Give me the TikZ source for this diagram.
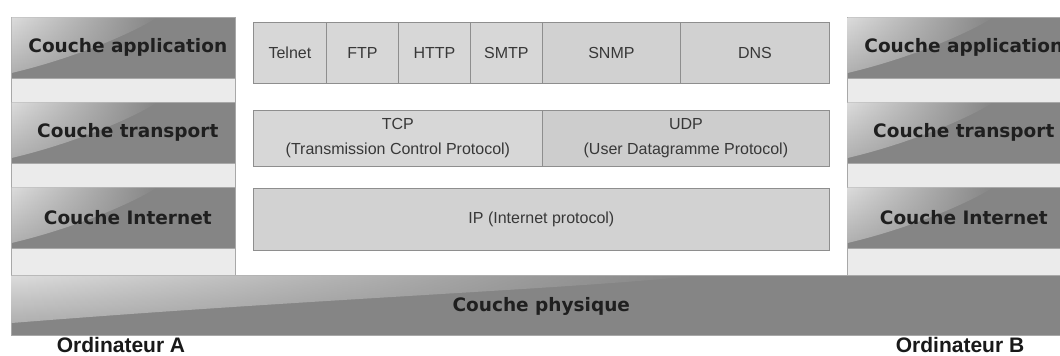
\documentclass[tikz,border=0pt]{standalone}
\usepackage{fontspec}
\setmainfont{Liberation Sans}
\newfontfamily\bandfamily{DejaVu Sans}
\usetikzlibrary{fadings}
\definecolor{bandgray}{HTML}{858585}
\definecolor{panelfill}{HTML}{EBEBEB}
\definecolor{panelline}{HTML}{A8A8A8}
\definecolor{boxfill}{HTML}{D7D7D7}
\definecolor{boxfillB}{HTML}{CDCDCD}
\definecolor{boxline}{HTML}{8E8E8E}
\definecolor{hilite}{HTML}{DCDCDC}
\definecolor{hiliteB}{HTML}{B0B0B0}
\definecolor{txtgray}{HTML}{383838}
\begin{document}
\begin{tikzpicture}[x=1pt,y=-1pt,
  panel/.style={draw=panelline, fill=panelfill, line width=0.8pt, anchor=north west,
    minimum width=224pt, minimum height=258pt, inner sep=0pt},
  bandtext/.style={font=\bandfamily\bfseries\fontsize{18.5}{20}\selectfont, text=black!88, inner sep=0pt},
  band/.style={fill=bandgray, draw=panelline, line width=0.6pt, anchor=north west,
    minimum width=224pt, minimum height=61pt, inner sep=0pt},
  hl/.style={top color=hilite, bottom color=hiliteB, path fading=east},
  physband/.style={fill=bandgray, draw=panelline, line width=0.6pt, anchor=north west,
    minimum width=1060pt, minimum height=60pt, inner sep=0pt},
  proto/.style={draw=boxline, fill=boxfill, line width=0.8pt, inner sep=0pt,
    anchor=north west, font=\fontsize{16}{25}\selectfont, text=txtgray, align=center},
  ordi/.style={font=\bfseries\fontsize{21}{23}\selectfont, text=black!90, anchor=base, inner sep=0pt}
]
\useasboundingbox (0,0) rectangle (1060,356);
\clip (0,0) rectangle (1060,356);
\fill[white] (0,0) rectangle (1060,356);

% panels
\node[panel] (panelA) at (11,17) {};
\node[panel] (panelB) at (847,17) {};

% bands with highlight and label
\foreach \nm/\bx/\by/\tx in {appA/11/17/Couche application, trA/11/102/Couche transport, intA/11/187/Couche Internet,
                             appB/847/17/Couche application, trB/847/102/Couche transport, intB/847/187/Couche Internet}{
  \node[band] (\nm) at (\bx,\by) {};
  \begin{scope}[shift={(\bx,\by)}]
    \shade[hl] (0.5,0.5) -- (146,0.5) .. controls (118,18) and (60,42) .. (0.5,56) -- cycle;
  \end{scope}
  \node[bandtext] (\nm-label) at ([xshift=4.5pt]\nm.center) {\tx};
}

% application protocols
\node[proto, minimum width=73pt, minimum height=61pt] (telnet) at (253,22) {Telnet};
\node[proto, minimum width=72pt, minimum height=61pt] (ftp) at (326,22) {FTP};
\node[proto, minimum width=72pt, minimum height=61pt] (http) at (398,22) {HTTP};
\node[proto, minimum width=72pt, minimum height=61pt] (smtp) at (470,22) {SMTP};
\node[proto, fill=boxfillB!60!boxfill, minimum width=138pt, minimum height=61pt] (snmp) at (542,22) {SNMP};
\node[proto, fill=boxfillB!60!boxfill, minimum width=149pt, minimum height=61pt] (dns) at (680,22) {DNS};

% transport protocols
\node[proto, minimum width=289pt, minimum height=56pt] (tcp) at (253,110)
  {TCP\\(Transmission Control Protocol)};
\node[proto, fill=boxfillB, minimum width=287pt, minimum height=56pt] (udp) at (542,110)
  {UDP\\(User Datagramme Protocol)};

% internet protocol
\node[proto, fill=boxfillB!50!boxfill, minimum width=576pt, minimum height=62pt] (ip) at (253,188)
  {IP (Internet protocol)};

% physical layer
\node[physband] (phys) at (11,275) {};
\begin{scope}[shift={(11,275)}]
  \shade[hl] (0.5,0.5) -- (688,0.5) .. controls (560,14) and (300,24) .. (0.5,48) -- cycle;
\end{scope}
\node[bandtext] (phys-label) at ([yshift=-1pt]phys.center) {Couche physique};

% computers
\node[ordi] (ordA) at (121,352) {Ordinateur A};
\node[ordi] (ordB) at (960,352) {Ordinateur B};
\end{tikzpicture}
\end{document}
